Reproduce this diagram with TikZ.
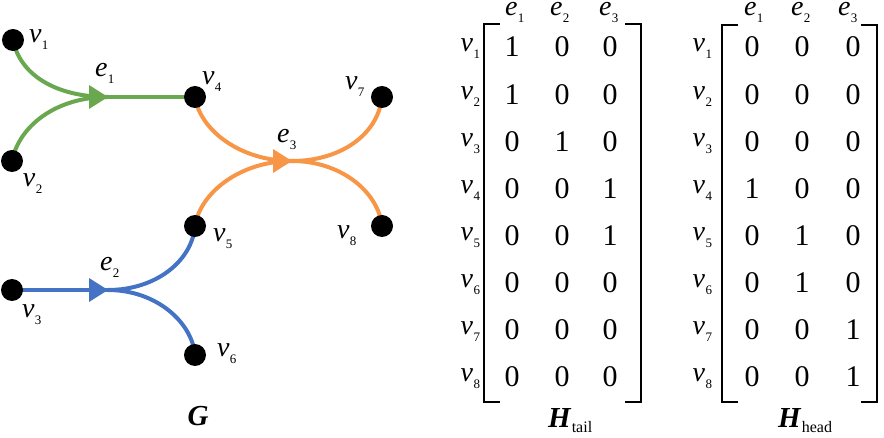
\documentclass[tikz,border=0pt]{standalone}
\usepackage{fontspec}
\setmainfont{Liberation Serif}
\usetikzlibrary{backgrounds}
\definecolor{eg}{HTML}{6AA84F}
\definecolor{eo}{HTML}{F79646}
\definecolor{eb}{HTML}{4472C4}
\newcommand\sublab[2]{\textit{#1}\kern0.5pt\raisebox{-7pt}{\fontsize{13}{13}\selectfont #2}}
\begin{document}
\begin{tikzpicture}[x=1pt,y=-1pt,
  dot/.style={circle,fill=black,minimum size=22pt,inner sep=0pt,outer sep=0pt},
  lab/.style={inner sep=0pt,outer sep=0pt,anchor=base west,font=\fontsize{28}{30}\selectfont},
  hdr/.style={lab,text height=12pt,text depth=8pt},
  rowlab/.style={inner sep=0pt,outer sep=0pt,anchor=base east,font=\fontsize{28}{30}\selectfont},
  dig/.style={inner sep=0pt,outer sep=0pt,anchor=base,font=\fontsize{30}{32}\selectfont},
  edgeline/.style={line width=4pt},
  brk/.style={line width=2.5pt,line cap=butt,line join=miter},
  ttl/.style={inner sep=0pt,outer sep=0pt,anchor=base west,font=\fontsize{29}{31}\selectfont}]
\useasboundingbox (0,0) rectangle (884,438);
% vertices
\node[dot] (v1) at (13,40) {};
\node[dot] (v2) at (12,161) {};
\node[dot] (v3) at (12,290) {};
\node[dot] (v4) at (195,97) {};
\node[dot] (v5) at (195,226) {};
\node[dot] (v6) at (195,355) {};
\node[dot] (v7) at (382,97) {};
\node[dot] (v8) at (382,226) {};
\coordinate (j1) at (108,97);
\coordinate (j2) at (108,290);
\coordinate (j3) at (292,161);
\begin{pgfonlayer}{background}
% e1
\draw[edgeline,eg] (v1.center) .. controls +(7,35) and +(-52,0) .. (j1);
\draw[edgeline,eg] (v2.center) .. controls +(7,-35) and +(-52,0) .. (j1);
\draw[edgeline,eg] (j1) -- (v4.center);
\fill[eg] (j1) -- +(-19,-12) -- +(-19,12) -- cycle;
% e3
\draw[edgeline,eo] (v4.center) .. controls +(5,33) and +(-52,0) .. (j3);
\draw[edgeline,eo] (v5.center) .. controls +(5,-33) and +(-52,0) .. (j3);
\draw[edgeline,eo] (j3) .. controls +(48,0) and +(-4,38) .. (v7.center);
\draw[edgeline,eo] (j3) .. controls +(48,0) and +(-4,-35) .. (v8.center);
\fill[eo] (j3) -- +(-19,-12) -- +(-19,12) -- cycle;
% e2
\draw[edgeline,eb] (v3.center) -- (j2);
\draw[edgeline,eb] (j2) .. controls +(48,0) and +(-3,35) .. (v5.center);
\draw[edgeline,eb] (j2) .. controls +(48,0) and +(-3,-33) .. (v6.center);
\fill[eb] (j2) -- +(-19,-12) -- +(-19,12) -- cycle;
\end{pgfonlayer}
% graph labels
\node[lab] (lv1) at (29,43) {\sublab{v}{1}};
\node[lab] (le1) at (95,77) {\sublab{e}{1}};
\node[lab] (lv4) at (202,85) {\sublab{v}{4}};
\node[lab] (lv7) at (345,90) {\sublab{v}{7}};
\node[lab] (le3) at (277,143) {\sublab{e}{3}};
\node[lab] (lv2) at (23,187) {\sublab{v}{2}};
\node[lab] (lv5) at (213,242) {\sublab{v}{5}};
\node[lab] (lv8) at (337,239) {\sublab{v}{8}};
\node[lab] (le2) at (100,271) {\sublab{e}{2}};
\node[lab] (lv3) at (22,318) {\sublab{v}{3}};
\node[lab] (lv6) at (217,357) {\sublab{v}{6}};
\node[inner sep=0pt,anchor=base,font=\fontsize{29}{31}\selectfont] (G) at (198,425) {\textbf{\textit{G}}};
% column headers
\node[hdr] (th1) at (505,16) {\sublab{e}{1}};
\node[hdr] (th2) at (550,16) {\sublab{e}{2}};
\node[hdr] (th3) at (599,16) {\sublab{e}{3}};
\node[hdr] (hh1) at (744,16) {\sublab{e}{1}};
\node[hdr] (hh2) at (791,16) {\sublab{e}{2}};
\node[hdr] (hh3) at (838,16) {\sublab{e}{3}};
% matrices
\foreach \r/\a/\b/\c/\d/\e/\f in {1/1/0/0/0/0/0, 2/1/0/0/0/0/0, 3/0/1/0/0/0/0, 4/0/0/1/1/0/0,
  5/0/0/1/0/1/0, 6/0/0/0/0/1/0, 7/0/0/0/0/0/1, 8/0/0/0/0/0/1}{
  \node[rowlab] (tr\r) at (480,{52+47.1*(\r-1)}) {\sublab{v}{\r}};
  \node[rowlab] (hr\r) at (712,{52+47.1*(\r-1)}) {\sublab{v}{\r}};
  \node[dig] (t\r a) at (512,{57+47.1*(\r-1)}) {\a};
  \node[dig] (t\r b) at (562,{57+47.1*(\r-1)}) {\b};
  \node[dig] (t\r c) at (610,{57+47.1*(\r-1)}) {\c};
  \node[dig] (h\r a) at (752,{57+47.1*(\r-1)}) {\d};
  \node[dig] (h\r b) at (802,{57+47.1*(\r-1)}) {\e};
  \node[dig] (h\r c) at (853,{57+47.1*(\r-1)}) {\f};
}
% brackets
\draw[brk] (500,24) -- (484,24) -- (484,402) -- (500,402);
\draw[brk] (625,24) -- (641,24) -- (641,402) -- (625,402);
\draw[brk] (738,25) -- (722,25) -- (722,402) -- (738,402);
\draw[brk] (861,25) -- (877,25) -- (877,402) -- (861,402);
% titles
\node[ttl] (Ht) at (548,428) {\textbf{\textit{H}}\kern0.5pt\raisebox{-5pt}{\fontsize{16}{16}\selectfont tail}};
\node[ttl] (Hh) at (778,428) {\textbf{\textit{H}}\kern0.5pt\raisebox{-5pt}{\fontsize{16}{16}\selectfont head}};
\end{tikzpicture}
\end{document}
